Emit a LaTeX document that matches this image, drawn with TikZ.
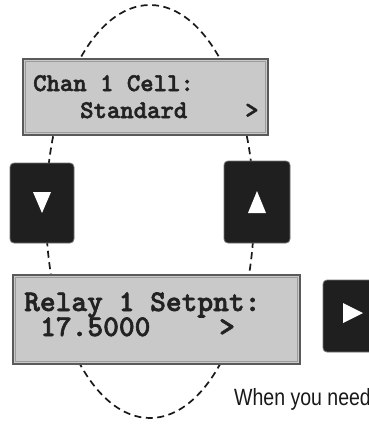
\documentclass[tikz,border=0pt]{standalone}
\usepackage{fontspec}
\usetikzlibrary{shapes.geometric}
\newfontfamily\lcdfont[FakeBold=2]{lmmonolt10-bold.otf}
\newfontfamily\notefont[FakeStretch=0.83]{Liberation Sans}
\definecolor{lcdfill}{HTML}{C9C9C9}
\definecolor{lcdedge}{HTML}{5A5A5A}
\definecolor{lcdinner}{HTML}{9C9C9C}
\definecolor{keyfill}{HTML}{1F1F1F}
\definecolor{inkgray}{HTML}{222222}
\tikzset{
  lcdpanel/.style={draw=lcdedge, line width=1.5pt, fill=lcdfill, rectangle, inner sep=0pt},
  lcdbevel/.style={draw=lcdinner, line width=0.7pt},
  keybox/.style={draw=black!55, line width=0.8pt, fill=keyfill, rectangle, rounded corners=4pt, inner sep=0pt},
  keyglyph/.style={fill=white, draw=none},
  lcdtext/.style={anchor=base west, inner sep=0pt, text=inkgray},
  loopline/.style={draw=black!90, line width=1.7pt, dash pattern=on 7pt off 4.5pt},
}
\begin{document}
\begin{tikzpicture}[x=1pt, y=-1pt]
  \useasboundingbox (0,0) rectangle (368,424);
  \fill[white] (0,0) rectangle (368,424);

  % menu loop behind the panels and keys
  \node[ellipse, loopline, minimum width=208pt, minimum height=413pt, inner sep=0pt] (loop) at (150,211.5) {};

  % upper display
  \node[lcdpanel, minimum width=245pt, minimum height=76pt] (lcdA) at (145.5,97) {};
  \draw[lcdbevel] ([shift={(3,3)}]lcdA.north west) rectangle ([shift={(-3,-3)}]lcdA.south east);
  \node[lcdtext, font=\lcdfont\fontsize{25.5}{26}\selectfont] (lcdAl1) at (33,91) {Chan 1 Cell:};
  \node[lcdtext, font=\lcdfont\fontsize{25.5}{26}\selectfont] (lcdAl2) at (80,118) {Standard};
  \node[lcdtext, font=\lcdfont\fontsize{25.5}{26}\selectfont] (lcdAgt) at (245,118) {>};

  % lower display
  \node[lcdpanel, minimum width=287pt, minimum height=89pt] (lcdB) at (156.5,319.5) {};
  \draw[lcdbevel] ([shift={(3,3)}]lcdB.north west) rectangle ([shift={(-3,-3)}]lcdB.south east);
  \node[lcdtext, font=\lcdfont\fontsize{30}{30}\selectfont] (lcdBl1) at (24,311) {Relay 1 Setpnt:};
  \node[lcdtext, font=\lcdfont\fontsize{30}{30}\selectfont] (lcdBl2) at (40,336) {17.5000};
  \node[lcdtext, font=\lcdfont\fontsize{30}{30}\selectfont] (lcdBgt) at (219,336) {>};

  % keys
  \node[keybox, minimum width=64pt, minimum height=80pt] (down) at (42,203) {};
  \fill[keyglyph] ([shift={(-9,-11)}]down.center) -- ([shift={(9,-11)}]down.center) -- ([shift={(0,10)}]down.center) -- cycle;

  \node[keybox, minimum width=66pt, minimum height=82pt] (up) at (257,202) {};
  \fill[keyglyph] ([shift={(-9,11)}]up.center) -- ([shift={(9,11)}]up.center) -- ([shift={(0,-11)}]up.center) -- cycle;

  \node[keybox, minimum width=66pt, minimum height=72pt] (right) at (356,316) {};
  \fill[keyglyph] ([shift={(-13,-13)}]right.center) -- ([shift={(-13,7)}]right.center) -- ([shift={(7,-3)}]right.center) -- cycle;

  % caption
  \node[anchor=base west, inner sep=0pt, text=black!90, font=\notefont\fontsize{23.5}{24}\selectfont] (note) at (234,405) {When you need};
\end{tikzpicture}
\end{document}
